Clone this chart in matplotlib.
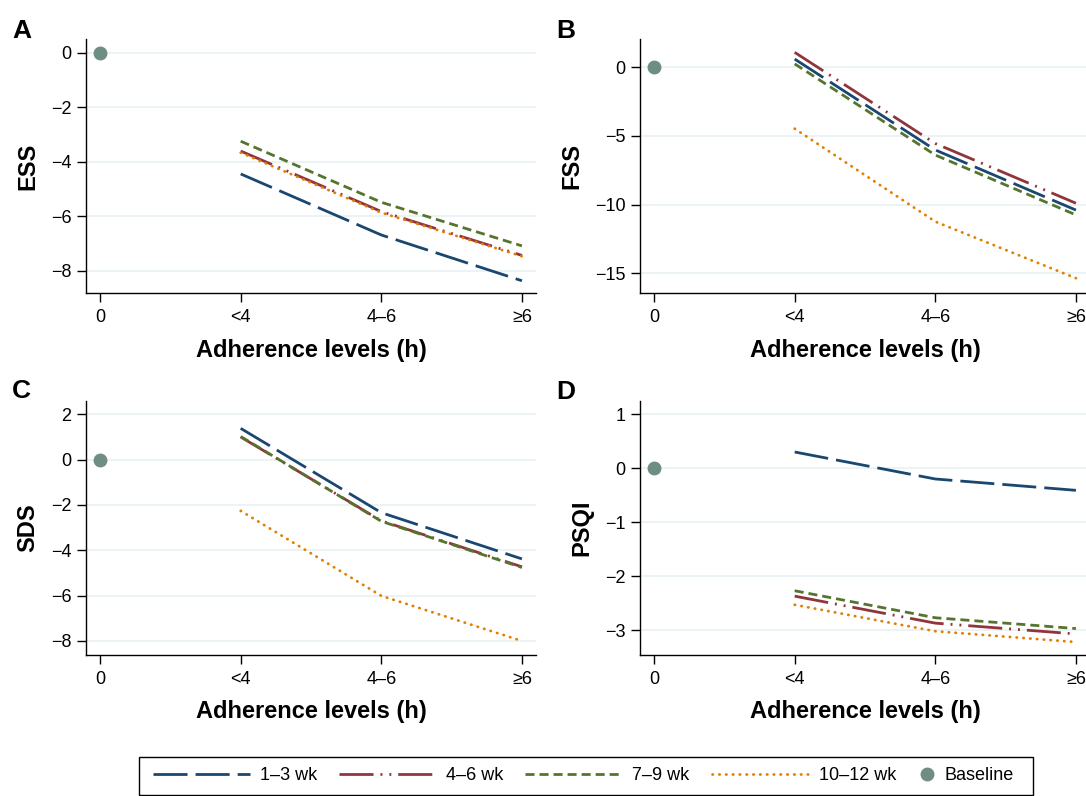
import matplotlib
matplotlib.use("Agg")
import matplotlib.pyplot as plt
from matplotlib.lines import Line2D
from matplotlib.patches import Rectangle

plt.rcParams['font.family'] = ['Liberation Sans', 'DejaVu Sans']
plt.rcParams['lines.scale_dashes'] = False

# ---------------- data ----------------
categories = ["0", "<4", "4–6", "≥6"]
adherence_x = [1, 2, 3]
baseline_x = [0]
baseline_y = [0]
series_labels = ["1–3 wk", "4–6 wk", "7–9 wk", "10–12 wk"]

ess_13 = [-4.45, -6.69, -8.37]
ess_46 = [-3.61, -5.83, -7.44]
ess_79 = [-3.25, -5.49, -7.09]
ess_1012 = [-3.67, -5.87, -7.47]

fss_13 = [0.60, -6.02, -10.40]
fss_46 = [1.09, -5.55, -9.90]
fss_79 = [0.25, -6.39, -10.75]
fss_1012 = [-4.47, -11.24, -15.36]

sds_13 = [1.38, -2.34, -4.38]
sds_46 = [1.00, -2.70, -4.73]
sds_79 = [1.02, -2.72, -4.76]
sds_1012 = [-2.26, -6.01, -8.00]

psqi_13 = [0.30, -0.20, -0.41]
psqi_46 = [-2.37, -2.87, -3.07]
psqi_79 = [-2.27, -2.77, -2.97]
psqi_1012 = [-2.53, -3.02, -3.22]

ess_ticks = [0, -2, -4, -6, -8]
fss_ticks = [0, -5, -10, -15]
sds_ticks = [2, 0, -2, -4, -6, -8]
psqi_ticks = [1, 0, -1, -2, -3]

# ---------------- styles ----------------
colors = ["#1a476f", "#90353b", "#55752f", "#e37e00"]
base_color = "#6e8e84"
grid_color = "#eaf2f3"
styles = [
    dict(ls=(0, (24.5, 5.8)), dash_capstyle='butt'),
    dict(ls=(0, (24.5, 5.0, 1.4, 5.0, 1.4, 5.0)), dash_capstyle='butt'),
    dict(ls=(0, (6.5, 3.6)), dash_capstyle='butt'),
    dict(ls=(0, (0.3, 4.6)), dash_capstyle='round'),
]
LW = 2.0

W, H = 1086, 796
fig = plt.figure(figsize=(W / 100, H / 100), dpi=100)


def make_ax(left_px, top_px, bottom_px):
    return fig.add_axes([left_px / W, 1 - bottom_px / H,
                         450 / W, (bottom_px - top_px) / H])


panels = [
    (make_ax(86, 39.3, 293.3), "A", "ESS", [ess_13, ess_46, ess_79, ess_1012], ess_ticks, (-8.83, 0.49)),
    (make_ax(640, 39.3, 293.3), "B", "FSS", [fss_13, fss_46, fss_79, fss_1012], fss_ticks, (-16.46, 2.04)),
    (make_ax(86, 400.7, 655), "C", "SDS", [sds_13, sds_46, sds_79, sds_1012], sds_ticks, (-8.62, 2.6)),
    (make_ax(640, 400.7, 655), "D", "PSQI", [psqi_13, psqi_46, psqi_79, psqi_1012], psqi_ticks, (-3.46, 1.25)),
]

letter_pos = {"A": (12, 38), "B": (556, 38), "C": (12, 398), "D": (556, 399)}

for ax, letter, ylab, series, yticks, ylim in panels:
    for vals, col, st in zip(series, colors, styles):
        ax.plot(adherence_x, vals, color=col, lw=LW, solid_capstyle='butt', **st, zorder=3)
    ax.plot(baseline_x, baseline_y, 'o', color=base_color, ms=9, mec=base_color, zorder=4)
    ax.set_xlim(-0.1, 3.1)
    ax.set_ylim(*ylim)
    ax.set_xticks(range(len(categories)))
    ax.set_xticklabels(categories)
    ax.set_yticks(yticks)
    for y in yticks:
        ax.axhline(y, color=grid_color, lw=1.3, zorder=1)
    for s in ["top", "right"]:
        ax.spines[s].set_visible(False)
    for s in ["left", "bottom"]:
        ax.spines[s].set_linewidth(1.0)
    ax.tick_params(axis='both', length=6.5, width=1.0, labelsize=13, color='black')
    ax.tick_params(axis='x', pad=5)
    ax.tick_params(axis='y', pad=4)
    ax.set_xlabel("Adherence levels (h)", fontsize=17, fontweight='bold', labelpad=9)
    ax.set_ylabel(ylab, fontsize=17, fontweight='bold', labelpad=8)
    lx, ly = letter_pos[letter]
    fig.text(lx / W, 1 - ly / H, letter, fontsize=19, fontweight='bold',
             ha='left', va='baseline')

# ---------------- legend ----------------
handles = [Line2D([], [], color=c, lw=LW, **st) for c, st in zip(colors, styles)]
leg1 = fig.legend(handles, series_labels, ncol=4, loc='center left',
                  bbox_to_anchor=(153 / W, 1 - 776 / H), frameon=False, fontsize=13,
                  handlelength=5.37, handletextpad=0.55, columnspacing=1.22,
                  borderpad=0, borderaxespad=0)
base_handle = Line2D([], [], marker='o', ls='none', color=base_color, mec=base_color, ms=9)
leg2 = fig.legend([base_handle], ["Baseline"], loc='center left',
                  bbox_to_anchor=(918 / W, 1 - 776 / H), frameon=False, fontsize=13,
                  handlelength=1.0, handletextpad=0.45, borderpad=0, borderaxespad=0)
fig.add_artist(Rectangle((139 / W, 1 - 795 / H), (1033 - 139) / W, (795 - 757) / H,
                         transform=fig.transFigure, fill=False, ec='black', lw=1.0))

fig.savefig("out.png", dpi=100)
